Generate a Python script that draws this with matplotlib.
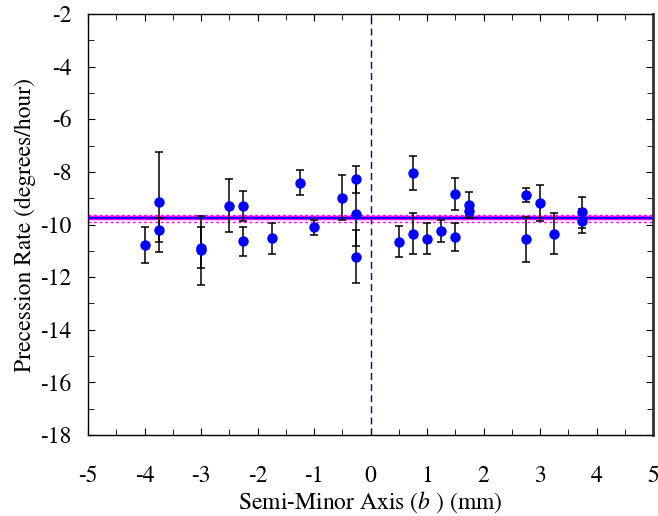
import matplotlib
matplotlib.use("Agg")
import matplotlib.pyplot as plt
from matplotlib.ticker import MultipleLocator

plt.rcParams['font.family'] = ['STIXGeneral', 'DejaVu Serif']
plt.rcParams['mathtext.fontset'] = 'stix'
plt.rcParams['axes.unicode_minus'] = False

# Data
b_mm = [-4, -3.75, -3.75, -3, -3, -2.5, -2.25, -2.25, -1.75, -1.25, -1, -0.5,
        -0.25, -0.25, -0.25, 0.5, 0.75, 0.75, 1, 1.25, 1.5, 1.5, 1.75, 1.75,
        2.75, 2.75, 3, 3.25, 3.75, 3.75]
rate = [-10.78, -9.15, -10.21, -10.88, -10.98, -9.28, -9.30, -10.63, -10.53, -8.41,
        -10.11, -8.98, -8.28, -9.60, -11.22, -10.65, -8.04, -10.36, -10.54, -10.26,
        -8.85, -10.48, -9.27, -9.49, -8.88, -10.56, -9.18, -10.35, -9.54, -9.87]
rate_err = [0.67, 1.90, 0.46, 0.78, 1.32, 1.02, 0.56, 0.55, 0.58, 0.48,
            0.30, 0.86, 0.52, 1.22, 1.00, 0.58, 0.63, 0.78, 0.58, 0.42,
            0.60, 0.53, 0.50, 0.20, 0.26, 0.85, 0.68, 0.78, 0.60, 0.47]
mean_rate = -9.76
mean_band = [-9.62, -9.92]

xticks = [-5, -4, -3, -2, -1, 0, 1, 2, 3, 4, 5]
yticks = [-18, -16, -14, -12, -10, -8, -6, -4, -2]

fig = plt.figure(figsize=(6.58, 5.16), dpi=100)
ax = fig.add_axes([88/658, 1-435/516, (653-88)/658, (435-14)/516])

ax.axhline(mean_rate, color='magenta', lw=3.2, zorder=2)
ax.axhline(mean_rate, color='blue', lw=1.3, zorder=3)
for v in mean_band:
    ax.axhline(v, color='magenta', lw=1.0, ls=(0, (2, 2)), zorder=2)
ax.axvline(0, color='#00008B', lw=1.0, ls=(0, (5, 3)), zorder=2)

ax.errorbar(b_mm, rate, yerr=rate_err, fmt='o', color='blue', ms=6.5,
            ecolor='black', elinewidth=1.1, capsize=3, capthick=1.1, zorder=4)

ax.set_xlim(-5, 5)
ax.set_ylim(-18, -2)
ax.set_xticks(xticks)
ax.set_yticks(yticks)
ax.xaxis.set_minor_locator(MultipleLocator(0.5))
ax.yaxis.set_minor_locator(MultipleLocator(1))
ax.tick_params(which='both', direction='in', top=True, right=True, labelsize=17)
ax.tick_params(axis='x', which='major', pad=22, length=5)
ax.tick_params(axis='y', which='major', pad=12, length=5)
ax.tick_params(which='minor', length=4)

ax.set_xlabel(r'Semi-Minor Axis ($b$ ) (mm)', fontsize=17, labelpad=2)
ax.set_ylabel('Precession Rate (degrees/hour)', fontsize=17, labelpad=3)

for s in ax.spines.values():
    s.set_linewidth(1.0)
ax.spines['right'].set_linewidth(2.0)
ax.spines['right'].set_color('#333333')

fig.savefig('out.png', dpi=100)
